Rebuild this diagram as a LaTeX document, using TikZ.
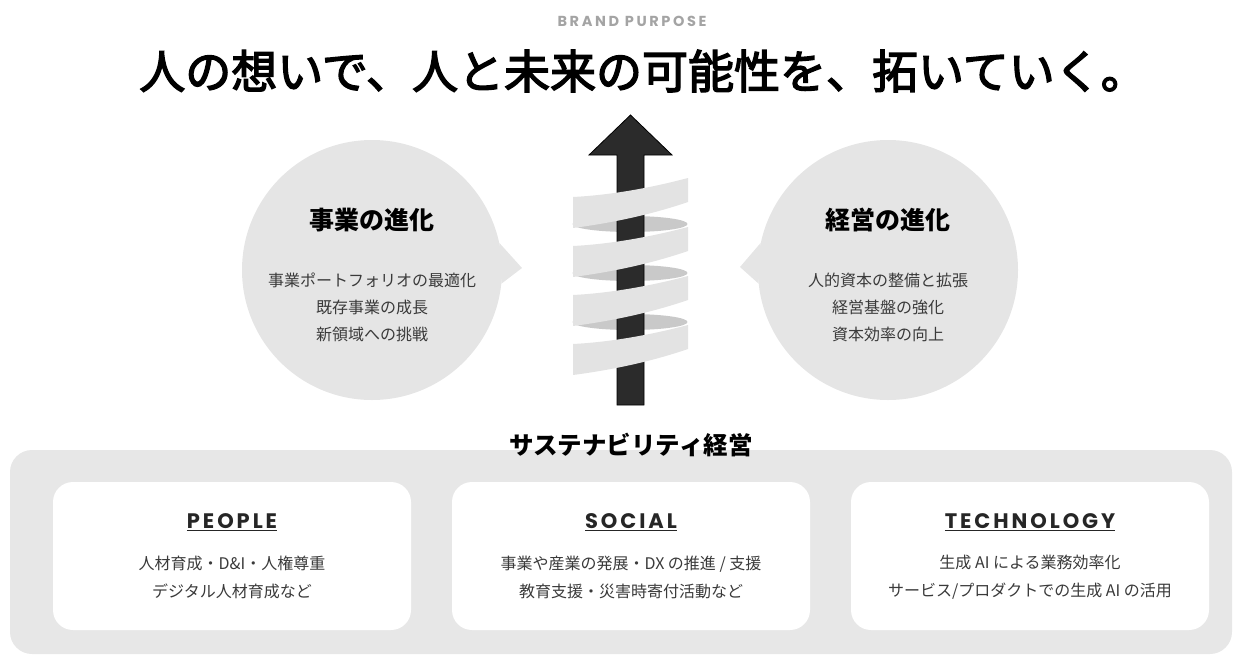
\documentclass[tikz,border=0pt]{standalone}
\usepackage{fontspec}
\setmainfont{Noto Sans CJK JP}
\newfontfamily\titlefont{Noto Sans CJK JP}[FakeBold=3]
\newfontfamily\brandfont{Poppins}[LetterSpace=18]
\newfontfamily\headfont{Poppins}[LetterSpace=14]
\definecolor{panelgray}{HTML}{E7E7E7}
\definecolor{bubblegray}{HTML}{E5E5E5}
\definecolor{ribbonlight}{HTML}{E3E3E3}
\definecolor{ribbondark}{HTML}{C9C9C9}
\definecolor{arrowdark}{HTML}{2B2B2B}
\definecolor{bodygray}{HTML}{3A3A3A}
\definecolor{brandgray}{HTML}{A4A4A4}

\begin{document}
\begin{tikzpicture}[x=1pt, y=-1pt,
  bubble/.style={circle, fill=bubblegray, minimum size=260pt, inner sep=0pt},
  bubblehead/.style={font=\bfseries\fontsize{25}{30}\selectfont},
  bubbletext/.style={font=\fontsize{16}{27}\selectfont, text=bodygray, align=center},
  card/.style={rounded corners=20pt, fill=white, minimum width=358pt, minimum height=148pt},
  cardhead/.style={font=\headfont\bfseries\fontsize{21}{24}\selectfont, text=black!85},
  cardtext/.style={font=\fontsize{16}{28}\selectfont, text=bodygray, align=center},
  band/.style={fill=ribbonlight},
  lens/.style={fill=ribbondark}]
\useasboundingbox (0,0) rectangle (1240,654);
\node [font=\brandfont\bfseries\fontsize{14.5}{18}\selectfont, text=brandgray] (brand) at (632,21) {BRAND PURPOSE};
\node [font=\titlefont\fontsize{46}{52}\selectfont] (purpose) at (643,71) {人の想いで、人と未来の可能性を、拓いていく。};

\node [bubble] (bizcircle) at (372,270) {};
\coordinate (biztip) at (522,268);
\fill [bubblegray] (bizcircle.12) -- (biztip) -- (bizcircle.-6) -- cycle;
\node [bubblehead] (bizhead) at (372,220) {事業の進化};
\node [bubbletext] (biztext) at (372,307) {事業ポートフォリオの最適化\\既存事業の成長\\新領域への挑戦};

\node [bubble] (mgmtcircle) at (888,270) {};
\coordinate (mgmttip) at (740,267);
\fill [bubblegray] (mgmtcircle.168) -- (mgmttip) -- (mgmtcircle.186) -- cycle;
\node [bubblehead] (mgmthead) at (888,220) {経営の進化};
\node [bubbletext] (mgmttext) at (888,307) {人的資本の整備と拡張\\経営基盤の強化\\資本効率の向上};

\fill [lens] (630,224) ellipse [x radius=57.5, y radius=8];
\fill [lens] (630,273) ellipse [x radius=57.5, y radius=8];
\fill [lens] (630,322) ellipse [x radius=57.5, y radius=8];
\filldraw [fill=arrowdark, draw=black, line width=0.8pt] (617,405) -- (617,155) -- (589,155) -- (630.5,115) -- (672,155) -- (644,155) -- (644,405) -- cycle;
\fill [band] (573,197) .. controls (611,195) and (650,188) .. (688,178) -- (688,202) .. controls (650,215) and (611,223) .. (573,228) -- cycle;
\fill [band] (573,246) .. controls (611,244) and (650,237) .. (688,227) -- (688,251) .. controls (650,264) and (611,272) .. (573,277) -- cycle;
\fill [band] (573,295) .. controls (611,293) and (650,286) .. (688,276) -- (688,300) .. controls (650,313) and (611,321) .. (573,326) -- cycle;
\fill [band] (573,344) .. controls (611,342) and (650,335) .. (688,325) -- (688,349) .. controls (650,362) and (611,370) .. (573,375) -- cycle;

\node [fill=panelgray, rounded corners=22pt, minimum width=1222pt, minimum height=204pt] (base) at (621,552) {};
\node [font=\bfseries\fontsize{24.5}{28}\selectfont] (susmgmt) at (631,445) {サステナビリティ経営};

\node [card] (people) at (232,556) {};
\node [cardhead] (peoplehead) at (232,522) {\underline{PEOPLE}};
\node [cardtext] (peopletext) at (232,577) {人材育成・D\&I・人権尊重\\デジタル人材育成など};

\node [card] (social) at (631,556) {};
\node [cardhead] (socialhead) at (631,522) {\underline{SOCIAL}};
\node [cardtext] (socialtext) at (631,577) {事業や産業の発展・DX の推進 / 支援\\教育支援・災害時寄付活動など};

\node [card] (tech) at (1030,556) {};
\node [cardhead] (techhead) at (1030,522) {\underline{TECHNOLOGY}};
\node [cardtext] (techtext) at (1030,577) {生成 AI による業務効率化\\サービス/プロダクトでの生成 AI の活用};
\end{tikzpicture}
\end{document}
